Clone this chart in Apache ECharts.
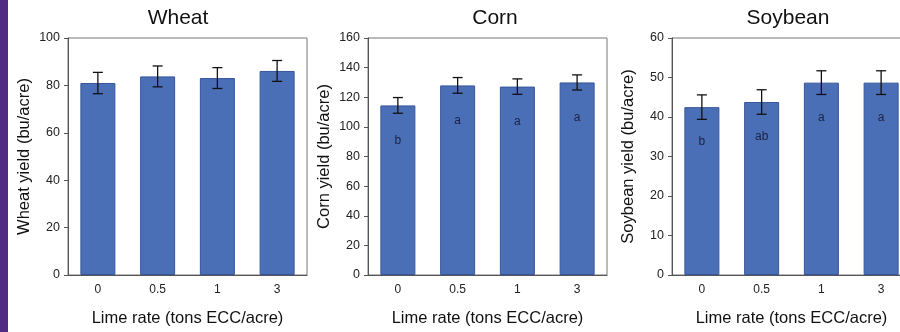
<!DOCTYPE html>
<html>
<head>
<meta charset="utf-8">
<script src="https://cdn.jsdelivr.net/npm/echarts@6/dist/echarts.min.js"></script>
<style>
html,body{margin:0;padding:0;background:#fff;}
#strip{position:absolute;left:0;top:0;width:8px;height:332px;background:#4f2b84;}
#chart{position:absolute;left:0;top:0;width:900px;height:332px;}
</style>
</head>
<body>
<div id="chart"></div>
<div id="strip"></div>
<script>
const categories = ['0', '0.5', '1', '3'];

const wheatYield = [81, 83.8, 83.1, 86.1];
const wheatErr = [4.5, 4.4, 4.4, 4.4];
const wheatLetters = ['', '', '', ''];

const cornYield = [114.5, 128, 127.2, 130];
const cornErr = [5.3, 5.3, 5.2, 5.1];
const cornLetters = ['b', 'a', 'a', 'a'];

const soyYield = [42.5, 43.8, 48.7, 48.7];
const soyErr = [3.1, 3.1, 3.0, 3.0];
const soyLetters = ['b', 'ab', 'a', 'a'];

const titles = ['Wheat', 'Corn', 'Soybean'];
const yNames = ['Wheat yield (bu/acre)', 'Corn yield (bu/acre)', 'Soybean yield (bu/acre)'];
const xName = 'Lime rate (tons ECC/acre)';
const yMax = [100, 160, 60];
const yInterval = [20, 20, 10];

const panels = [
  {vals: wheatYield, err: wheatErr, letters: wheatLetters},
  {vals: cornYield, err: cornErr, letters: cornLetters},
  {vals: soyYield, err: soyErr, letters: soyLetters}
];

const gridLeft = [68, 368, 672];
const titleX = [178, 495, 788];
const FONT = 'Liberation Sans, Arial, sans-serif';

const chart = echarts.init(document.getElementById('chart'), null, {renderer: 'canvas'});

function renderErr(params, api) {
  const i = api.value(0), v = api.value(1), e = api.value(2);
  const top = api.coord([i, v + e]);
  const bot = api.coord([i, v - e]);
  const hw = 5;
  const st = {stroke: '#111', lineWidth: 1.3};
  return {
    type: 'group',
    children: [
      {type: 'line', shape: {x1: top[0], y1: top[1], x2: bot[0], y2: bot[1]}, style: st},
      {type: 'line', shape: {x1: top[0] - hw, y1: top[1], x2: top[0] + hw, y2: top[1]}, style: st},
      {type: 'line', shape: {x1: bot[0] - hw, y1: bot[1], x2: bot[0] + hw, y2: bot[1]}, style: st}
    ]
  };
}

const option = {
  backgroundColor: '#fff',
  animation: false,
  title: titles.map((t, k) => ({
    text: t, left: titleX[k], top: 8, padding: 0, textAlign: 'center',
    textStyle: {fontFamily: FONT, fontSize: 21, fontWeight: 'normal', color: '#111'}
  })),
  grid: gridLeft.map(l => ({
    left: l, top: 38, width: 239, height: 237, show: true,
    borderColor: '#777', borderWidth: 1, backgroundColor: 'transparent',
    containLabel: false, outerBoundsMode: 'none'
  })),
  xAxis: gridLeft.map((l, k) => ({
    type: 'category', gridIndex: k, data: categories,
    name: xName, nameLocation: 'middle', nameGap: 35,
    nameTextStyle: {fontFamily: FONT, fontSize: 16.5, color: '#111'},
    axisLine: {lineStyle: {color: '#555', width: 1}},
    axisTick: {alignWithLabel: true, length: 4, lineStyle: {color: '#555'}},
    axisLabel: {fontFamily: FONT, fontSize: 12, color: '#222', margin: 9},
    splitLine: {show: false}
  })),
  yAxis: gridLeft.map((l, k) => ({
    type: 'value', gridIndex: k, min: 0, max: yMax[k], interval: yInterval[k],
    name: yNames[k], nameLocation: 'middle', nameGap: 35, nameRotate: 90,
    nameTextStyle: {fontFamily: FONT, fontSize: 16.5, color: '#111'},
    axisLine: {show: true, lineStyle: {color: '#555', width: 1}},
    axisTick: {show: true, length: 4, lineStyle: {color: '#555'}},
    axisLabel: {fontFamily: FONT, fontSize: 12.5, color: '#222', margin: 8},
    splitLine: {show: false}
  })),
  series: []
};

panels.forEach((p, k) => {
  option.series.push({
    type: 'bar', xAxisIndex: k, yAxisIndex: k, data: p.vals, barWidth: 35,
    itemStyle: {color: '#4a6fb7', borderColor: '#36569a', borderWidth: 1},
    label: {
      show: true, position: 'insideTop', distance: 29,
      fontFamily: FONT, fontSize: 12, color: '#1c2240',
      formatter: (q) => p.letters[q.dataIndex]
    }
  });
  option.series.push({
    type: 'custom', xAxisIndex: k, yAxisIndex: k,
    data: p.vals.map((v, i) => [i, v, p.err[i]]),
    renderItem: renderErr, z: 5, clip: false
  });
});

chart.setOption(option);
</script>
</body>
</html>
